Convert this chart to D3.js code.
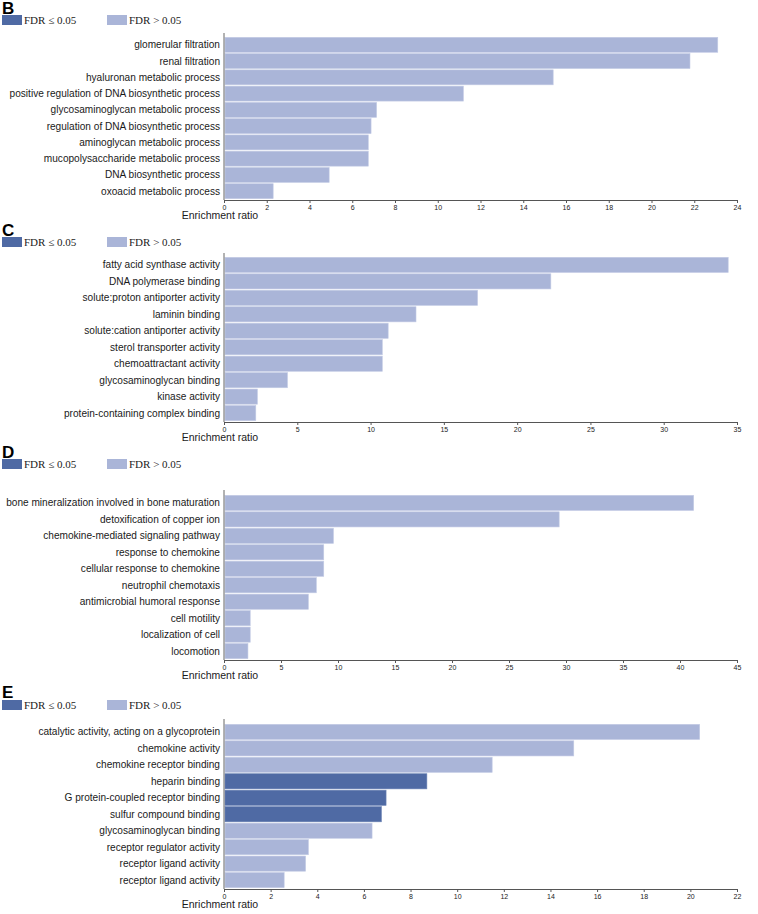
<!DOCTYPE html>
<html><head><meta charset="utf-8">
<script src="https://cdn.jsdelivr.net/npm/d3@7"></script>
<style>body{margin:0;background:#fff}svg{display:block}</style>
</head><body>
<script>
// ---- data ----
const bLabels = ["glomerular filtration","renal filtration","hyaluronan metabolic process","positive regulation of DNA biosynthetic process","glycosaminoglycan metabolic process","regulation of DNA biosynthetic process","aminoglycan metabolic process","mucopolysaccharide metabolic process","DNA biosynthetic process","oxoacid metabolic process"];
const bValues = [23.1,21.8,15.4,11.2,7.14,6.88,6.75,6.75,4.92,2.3];
const bSig = [0,0,0,0,0,0,0,0,0,0];
const bTicks = [0,2,4,6,8,10,12,14,16,18,20,22,24];

const cLabels = ["fatty acid synthase activity","DNA polymerase binding","solute:proton antiporter activity","laminin binding","solute:cation antiporter activity","sterol transporter activity","chemoattractant activity","glycosaminoglycan binding","kinase activity","protein-containing complex binding"];
const cValues = [34.4,22.3,17.3,13.1,11.2,10.8,10.8,4.33,2.28,2.17];
const cSig = [0,0,0,0,0,0,0,0,0,0];
const cTicks = [0,5,10,15,20,25,30,35];

const dLabels = ["bone mineralization involved in bone maturation","detoxification of copper ion","chemokine-mediated signaling pathway","response to chemokine","cellular response to chemokine","neutrophil chemotaxis","antimicrobial humoral response","cell motility","localization of cell","locomotion"];
const dValues = [41.2,29.4,9.6,8.75,8.75,8.1,7.4,2.3,2.3,2.1];
const dSig = [0,0,0,0,0,0,0,0,0,0];
const dTicks = [0,5,10,15,20,25,30,35,40,45];

const eLabels = ["catalytic activity, acting on a glycoprotein","chemokine activity","chemokine receptor binding","heparin binding","G protein-coupled receptor binding","sulfur compound binding","glycosaminoglycan binding","receptor regulator activity","receptor ligand activity","receptor ligand activity"];
const eValues = [20.4,15.0,11.5,8.7,6.95,6.75,6.35,3.62,3.5,2.58];
const eSig = [0,0,0,1,1,1,0,0,0,0];
const eTicks = [0,2,4,6,8,10,12,14,16,18,20,22];

const legendLabels = ["FDR \u2264 0.05","FDR > 0.05"];
const panelLetters = ["B","C","D","E"];

// ---- layout ----
const W = 758, H = 914;
const colDark = "#4f6aa4", colLight = "#aab5d8";
const x0 = 224, x1 = 737;
const panels = [
  {letter:panelLetters[0], labels:bLabels, values:bValues, sig:bSig, ticks:bTicks, letterY:14, legendY:15, top:37, axisY:200, yLineTop:33},
  {letter:panelLetters[1], labels:cLabels, values:cValues, sig:cSig, ticks:cTicks, letterY:236, legendY:237, top:257, axisY:422, yLineTop:253},
  {letter:panelLetters[2], labels:dLabels, values:dValues, sig:dSig, ticks:dTicks, letterY:458, legendY:459, top:495, axisY:660, yLineTop:490},
  {letter:panelLetters[3], labels:eLabels, values:eValues, sig:eSig, ticks:eTicks, letterY:698, legendY:700, top:724, axisY:889, yLineTop:719}
];

const svg = d3.select("body").append("svg").attr("width",W).attr("height",H);

panels.forEach(p => {
  const g = svg.append("g");
  // legend
  const lg = g.append("g").attr("transform",`translate(0,${p.legendY})`);
  const lx = [2,107];
  legendLabels.forEach((t,i)=>{
    lg.append("rect").attr("x",lx[i]).attr("y",0).attr("width",20).attr("height",10).attr("fill", i===0?colDark:colLight);
    lg.append("text").attr("x",lx[i]+22).attr("y",9).text(t)
      .attr("font-family","Liberation Serif, Times New Roman, serif").attr("font-size",11).attr("fill","#222");
  });
  g.append("text").attr("x",2).attr("y",p.letterY).text(p.letter)
    .attr("font-family","Liberation Sans, Arial, sans-serif").attr("font-weight","bold").attr("font-size",17).attr("fill","#000");

  const xMax = p.ticks[p.ticks.length-1];
  const x = d3.scaleLinear().domain([0,xMax]).range([x0,x1]);
  const y = d3.scaleBand().domain(d3.range(p.labels.length)).range([p.top,p.axisY-1]).paddingInner(0.08).paddingOuter(0.02);

  g.selectAll("rect.bar").data(p.values).join("rect").attr("class","bar")
    .attr("x",x(0)+1).attr("y",(d,i)=>y(i)).attr("width",d=>x(d)-x(0)-1).attr("height",y.bandwidth())
    .attr("fill",(d,i)=>p.sig[i]?colDark:colLight)
    .attr("stroke",(d,i)=>p.sig[i]?"#6b82b5":"#c3cbe5").attr("stroke-width",0.6);

  g.selectAll("text.lab").data(p.labels).join("text").attr("class","lab")
    .attr("x",x0-4).attr("y",(d,i)=>y(i)+y.bandwidth()/2).attr("dy","0.35em").attr("text-anchor","end")
    .attr("font-family","Liberation Sans, Arial, sans-serif").attr("font-size",10.1).attr("fill","#1a1a1a").text(d=>d);

  // y axis line
  g.append("line").attr("x1",x0).attr("x2",x0).attr("y1",p.yLineTop).attr("y2",p.axisY).attr("stroke","#666").attr("stroke-width",1);

  // x axis
  const ax = g.append("g").attr("transform",`translate(0,${p.axisY})`)
    .call(d3.axisBottom(x).tickValues(p.ticks).tickSize(3).tickSizeOuter(0));
  ax.select(".domain").attr("stroke","#555").attr("stroke-width",1.2);
  ax.selectAll(".tick line").attr("stroke","#555");
  ax.selectAll(".tick text").attr("font-family","Liberation Sans, Arial, sans-serif").attr("font-size",7).attr("fill","#222").attr("dy","0.5em");
  g.append("text").attr("x",220).attr("y",p.axisY+19).attr("text-anchor","middle")
    .attr("font-family","Liberation Sans, Arial, sans-serif").attr("font-size",10.5).attr("fill","#1a1a1a").text("Enrichment ratio");
});
</script>
</body></html>
